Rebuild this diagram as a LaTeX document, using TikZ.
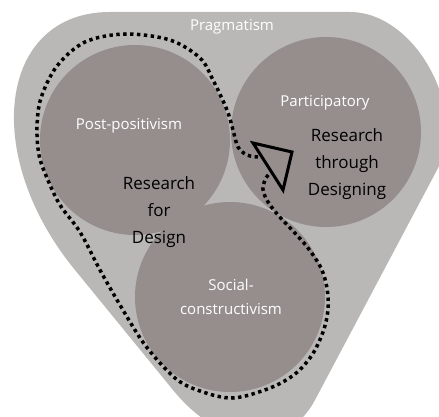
\documentclass[tikz,border=0pt]{standalone}
\usepackage{fontspec}
\setmainfont{Open Sans}
\definecolor{outergray}{RGB}{185,184,183}
\definecolor{circgray}{RGB}{149,142,141}
\begin{document}
\begin{tikzpicture}[x=1pt,y=-1pt,
  whitelabel/.style={text=white,font=\fontsize{15}{24}\selectfont,align=center,inner sep=0pt},
  blacklabel/.style={text=black,font=\fontsize{17}{27}\selectfont,align=center,inner sep=0pt},
  dotpath/.style={line width=3.5pt,dash pattern=on 3.4pt off 3.5pt}]

\useasboundingbox (0,0) rectangle (439,417);
\clip (0,0) rectangle (439,417);

% pragmatism
\fill[outergray] (110,12) -- (350,12) .. controls (415,12) and (469,110) .. (437,170)
  -- (315,400) .. controls (286,454) and (222,450) .. (173,390)
  -- (75,270) .. controls (-20,154) and (-1,12) .. (110,12) -- cycle;

% the three circles
\foreach \cx/\cy in {135/140,326/132,230/297} {\fill[circgray] (\cx,\cy) circle (95);}

\node[whitelabel] (prag) at (232,27) {Pragmatism};
\node[whitelabel] (postpos) at (129,126) {Post-positivism};
\node[whitelabel] (partic) at (325,103) {Participatory};
\node[whitelabel] (social) at (231,297) {Social-\\constructivism};
\node[blacklabel] (rfd) at (159,212) {Research\\for\\Design};
\node[blacklabel] (rtd) at (347,164) {Research\\through\\Designing};

% dotted loop
\draw[dotpath] plot[smooth,tension=0.55] coordinates {(258,157) (247,155) (238,147) (233,130)
  (227,110) (213,80) (200,58) (170,40) (125,34) (85,42) (57,66) (41,98) (37,127) (39,155)
  (47,178) (60,205) (80,232) (100,270) (120,305) (145,345) (175,378) (200,391) (233,398)
  (270,388) (295,374) (312,355) (323,332) (328,310) (327,288) (321,268) (308,248) (293,231)
  (278,215) (268,202) (263,190) (265,180) (269,174)};

\draw[line width=3pt] (253,143) -- (292,152) -- (283,190) -- cycle;

\end{tikzpicture}
\end{document}
